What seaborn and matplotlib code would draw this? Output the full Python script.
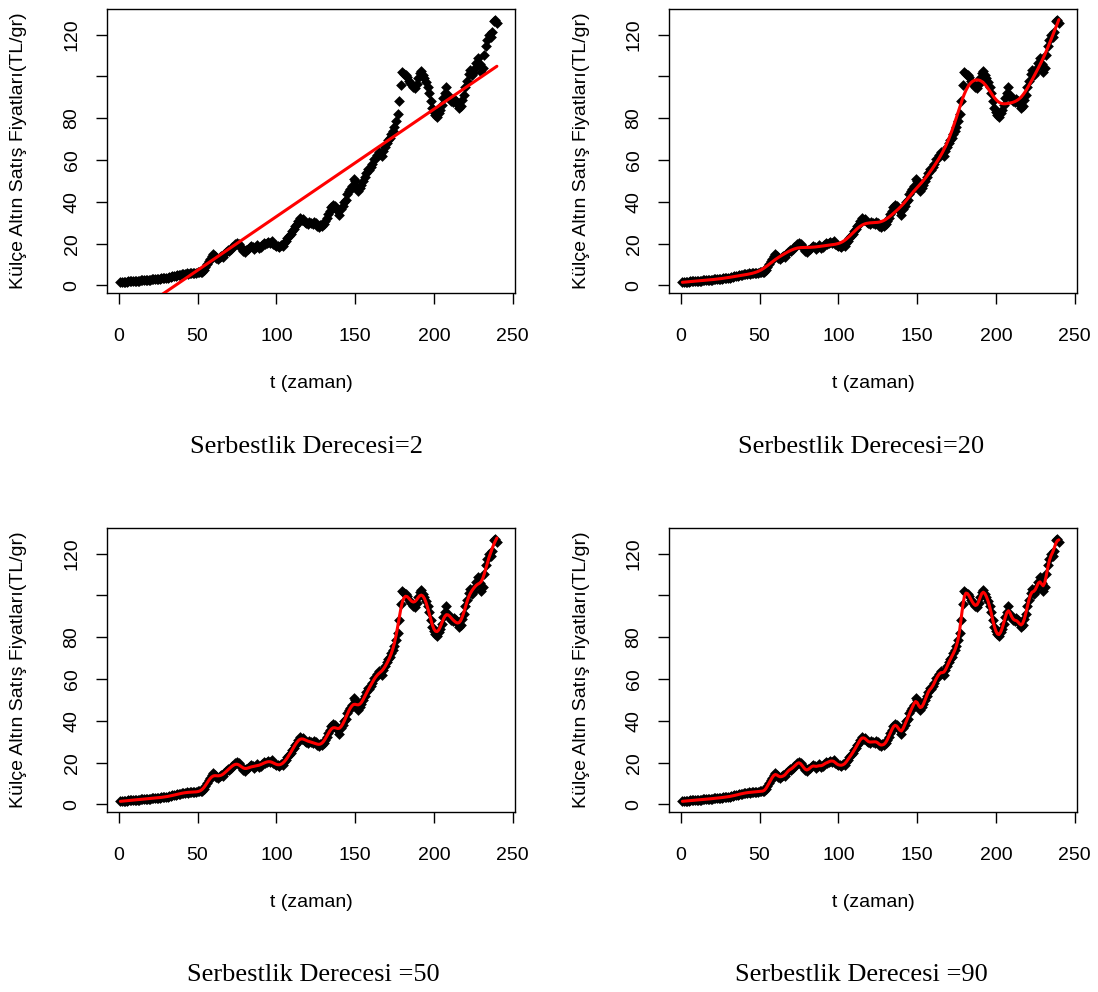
import numpy as np
import pandas as pd
import matplotlib
matplotlib.use("Agg")
import matplotlib.pyplot as plt
import seaborn as sns

sns.set_style("ticks")
plt.rcParams["font.family"] = ["Liberation Sans", "DejaVu Sans"]
plt.rcParams["text.color"] = "black"
plt.rcParams["axes.labelcolor"] = "black"
plt.rcParams["xtick.color"] = "black"
plt.rcParams["ytick.color"] = "black"

# veri: aylik kulce altin satis fiyatlari (TL/gr), t = 1..240
zaman = np.arange(1, 241)
fiyat = [
    1.5, 1.6, 1.6, 1.7, 1.8, 1.9, 1.9, 2.0, 2.1, 2.1,
    2.2, 2.2, 2.3, 2.4, 2.4, 2.5, 2.6, 2.7, 2.7, 2.8,
    2.9, 3.0, 3.0, 3.1, 3.2, 3.3, 3.4, 3.5, 3.6, 3.7,
    3.8, 4.0, 4.1, 4.3, 4.5, 4.7, 4.9, 5.0, 5.2, 5.4,
    5.5, 5.6, 5.8, 5.7, 5.9, 6.0, 6.1, 6.0, 6.2, 6.3,
    6.4, 6.5, 6.3, 7.5, 9.0, 10.2, 11.5, 12.8, 14.0, 15.0,
    14.2, 13.2, 12.8, 13.5, 14.0, 13.4, 15.0, 16.2, 17.0, 16.5,
    17.5, 18.2, 18.8, 19.6, 20.5, 19.8, 18.5, 17.8, 16.5, 16.0,
    16.8, 17.5, 18.3, 19.0, 18.2, 17.5, 18.6, 19.2, 18.0, 18.5,
    19.5, 20.2, 19.6, 20.4, 21.0, 20.5, 21.2, 20.0, 19.2, 18.8,
    19.0, 18.6, 19.3, 19.0, 20.5, 21.5, 22.5, 23.5, 24.5, 26.0,
    27.0, 28.5, 29.5, 31.0, 32.5, 31.5, 32.0, 30.5, 29.8, 29.5,
    30.2, 30.0, 29.6, 30.5, 29.8, 28.5, 28.0, 29.0, 28.5, 29.3,
    31.0, 32.5, 34.0, 35.5, 37.5, 38.5, 38.0, 36.5, 35.5, 33.5,
    36.5, 38.0, 40.0, 41.0, 43.5, 45.0, 46.0, 47.5, 51.0, 50.0,
    46.5, 45.0, 46.5, 48.0, 50.0, 52.0, 54.0, 55.5, 55.0, 56.5,
    58.0, 60.5, 61.0, 62.5, 64.0, 63.0, 62.0, 64.5, 66.0, 68.0,
    69.5, 70.5, 72.5, 74.0, 76.0, 78.5, 82.0, 88.0, 96.0, 102.0,
    101.0, 100.5, 99.5, 98.0, 97.0, 96.0, 95.0, 94.5, 96.5, 99.0,
    101.5, 102.5, 100.5, 99.0, 97.5, 95.0, 92.0, 88.0, 85.0, 83.0,
    81.5, 80.5, 82.5, 84.0, 86.5, 89.5, 92.0, 95.0, 91.0, 89.0,
    88.0, 87.5, 89.0, 88.0, 86.5, 85.0, 86.0, 88.5, 91.0, 95.0,
    98.0, 101.0, 103.0, 100.5, 101.5, 104.0, 106.5, 109.0, 106.0, 102.0,
    104.0, 110.0, 114.5, 117.5, 120.0, 119.0, 121.0, 126.5, 127.0, 125.5,
]

serbestlik = [2, 20, 50, 90]
basliklar = [
    "Serbestlik Derecesi=2",
    "Serbestlik Derecesi=20",
    "Serbestlik Derecesi =50",
    "Serbestlik Derecesi =90",
]
x_ticks = [0, 50, 100, 150, 200, 250]
y_ticks = [0, 20, 40, 60, 80, 100, 120]
y_tick_labels = ["0", "20", "40", "60", "80", "", "120"]

df = pd.DataFrame({"t": zaman, "fiyat": fiyat})


def smooth_fit(y, dof):
    # penalized (2. fark) duzeltici, iz(H) = serbestlik derecesi olacak sekilde lambda
    y = np.asarray(y, dtype=float)
    n = len(y)
    D = np.diff(np.eye(n), 2, axis=0)
    P = D.T @ D
    mu = np.clip(np.linalg.eigvalsh(P), 0, None)
    lo, hi = -6.0, 16.0
    for _ in range(200):
        mid = (lo + hi) / 2
        tr = np.sum(1.0 / (1.0 + 10 ** mid * mu))
        if tr > dof:
            lo = mid
        else:
            hi = mid
    lam = 10 ** ((lo + hi) / 2)
    return np.linalg.solve(np.eye(n) + lam * P, y)


W, H = 1098, 992
fig = plt.figure(figsize=(W / 100, H / 100), dpi=100)

# panel sol-ust koseleri (piksel)
konumlar = [(107, 9), (669, 9), (107, 528), (669, 528)]
genislik, yukseklik = 408, 284
yazi_konum = [(307, 447), (861, 447), (313, 975), (861, 975)]

for i, dof in enumerate(serbestlik):
    px, py = konumlar[i]
    ax = fig.add_axes([px / W, 1 - (py + yukseklik) / H, genislik / W, yukseklik / H])

    sns.scatterplot(data=df, x="t", y="fiyat", marker="D", color="black",
                    s=30, linewidth=0, ax=ax, zorder=2)
    if dof == 2:
        sns.regplot(data=df, x="t", y="fiyat", scatter=False, ci=None,
                    color="red", line_kws=dict(lw=2.2, zorder=3), ax=ax)
    else:
        fit = smooth_fit(fiyat, dof)
        sns.lineplot(x=zaman, y=fit, color="red", lw=2.2, ax=ax, zorder=3)

    ax.set_xlim(-7.5, 251.5)
    ax.set_ylim(-3.6, 132.2)
    ax.set_xticks(x_ticks)
    ax.set_xticklabels([str(v) for v in x_ticks], fontsize=14)
    ax.set_yticks(y_ticks)
    ax.set_yticklabels(y_tick_labels, fontsize=14, rotation=90, va="center")
    ax.tick_params(direction="out", length=8, width=1, color="black", pad=11)
    ax.tick_params(axis="x", pad=17)
    for s in ax.spines.values():
        s.set_color("black")
        s.set_linewidth(1)
    ax.set_xlabel("t (zaman)", fontsize=14, labelpad=22)
    ax.set_ylabel("Külçe Altın Satış Fiyatları(TL/gr)", fontsize=14, labelpad=26)

    tx, ty = yazi_konum[i]
    fig.text(tx / W, 1 - ty / H, basliklar[i], ha="center", va="center",
             fontsize=19, family=["Liberation Serif", "DejaVu Serif"])

fig.savefig("out.png", dpi=100)
